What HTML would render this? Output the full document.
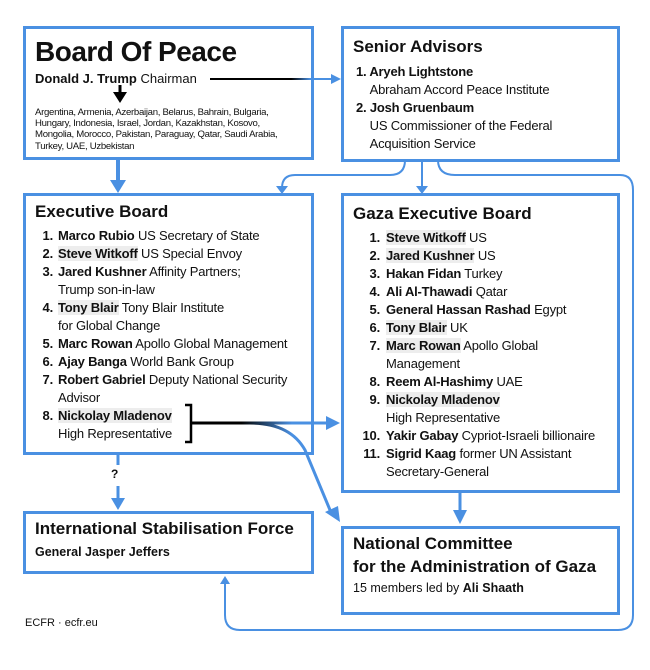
<!DOCTYPE html>
<html><head><meta charset="utf-8"><style>
body{margin:0;width:650px;height:670px;background:#fff;position:relative;font-family:"Liberation Sans",sans-serif;color:#111;overflow:hidden}
.box{position:absolute;border:3px solid #4a90e2;box-sizing:border-box;background:transparent}
.t{position:absolute;white-space:nowrap}
b{font-weight:bold}
.it{position:absolute;font-size:13px;white-space:nowrap;letter-spacing:-0.2px}
.n{position:absolute;font-weight:bold;text-align:right;width:20px}
.hl{background:#ededed}
</style></head><body>
<svg width="650" height="670" style="position:absolute;left:0;top:0">
<defs>
<linearGradient id="g1" gradientUnits="userSpaceOnUse" x1="210" y1="0" x2="335" y2="0"><stop offset="0.65" stop-color="#000"/><stop offset="0.8" stop-color="#4a90e2"/></linearGradient>
<linearGradient id="g2" gradientUnits="userSpaceOnUse" x1="191" y1="0" x2="335" y2="0"><stop offset="0.35" stop-color="#000"/><stop offset="0.7" stop-color="#4a90e2"/></linearGradient>
</defs>
<g fill="none" stroke="#4a90e2" stroke-width="2">
<path d="M405 160 Q405 175 390 175 L295 175 Q282 175 282 188"/>
<path d="M422 160 L422 188"/>
<path d="M438 160 Q438 175 455 175 L620 175 Q633 175 633 190 L633 615 Q633 630 618 630 L240 630 Q225 630 225 615 L225 582"/>
</g>
<polygon points="276,186 288,186 282,194" fill="#4a90e2"/>
<polygon points="416,186 428,186 422,194" fill="#4a90e2"/>
<polygon points="220,584 230,584 225,576" fill="#4a90e2"/>
<line x1="210" y1="79" x2="335" y2="79" stroke="url(#g1)" stroke-width="2"/>
<polygon points="331,74 341,79 331,84" fill="#4a90e2"/>
<line x1="118" y1="160" x2="118" y2="182" stroke="#4a90e2" stroke-width="4"/>
<polygon points="110,180 126,180 118,193" fill="#4a90e2"/>
<line x1="120" y1="85" x2="120" y2="94" stroke="#000" stroke-width="3"/>
<polygon points="113,92 127,92 120,103" fill="#000"/>
<line x1="118" y1="455" x2="118" y2="465" stroke="#4a90e2" stroke-width="3"/>
<line x1="118" y1="486" x2="118" y2="500" stroke="#4a90e2" stroke-width="3"/>
<polygon points="111,498 125,498 118,510" fill="#4a90e2"/>
<path d="M185 405 L191 405 L191 442 L185 442" fill="none" stroke="#000" stroke-width="2.5"/>
<line x1="191" y1="423" x2="328" y2="423" stroke="url(#g2)" stroke-width="3"/>
<polygon points="326,416 340,423 326,430" fill="#4a90e2"/>
<path d="M250 423 Q290 423 305 450 L330 510" fill="none" stroke="url(#g2)" stroke-width="3"/>
<polygon points="325,512 340,522 338,506" fill="#4a90e2"/>
<line x1="460" y1="493" x2="460" y2="512" stroke="#4a90e2" stroke-width="3"/>
<polygon points="453,510 467,510 460,524" fill="#4a90e2"/>
</svg>
<div class="t" style="left:111px;top:467px;font-size:12px;font-weight:bold">?</div>

<div class="box" style="left:23px;top:26px;width:291px;height:134px"></div>
<div class="t" style="left:35px;top:36px;font-size:28px;font-weight:bold;letter-spacing:-0.5px">Board Of Peace</div>
<div class="t" style="left:35px;top:71px;font-size:13px"><b>Donald J. Trump</b> Chairman</div>
<div class="t" style="left:35px;top:107px;font-size:9.6px;line-height:11.2px;letter-spacing:-0.3px">Argentina, Armenia, Azerbaijan, Belarus, Bahrain, Bulgaria,<br>Hungary, Indonesia, Israel, Jordan, Kazakhstan, Kosovo,<br>Mongolia, Morocco, Pakistan, Paraguay, Qatar, Saudi Arabia,<br>Turkey, UAE, Uzbekistan</div>

<div class="box" style="left:341px;top:26px;width:279px;height:136px"></div>
<div class="t" style="left:353px;top:37px;font-size:17px;font-weight:bold">Senior Advisors</div>
<div class="it" style="left:356px;top:63px;line-height:18px"><b>1. Aryeh Lightstone</b><br>&nbsp;&nbsp;&nbsp;&nbsp;Abraham Accord Peace Institute<br><b>2. Josh Gruenbaum</b><br>&nbsp;&nbsp;&nbsp;&nbsp;US Commissioner of the Federal<br>&nbsp;&nbsp;&nbsp;&nbsp;Acquisition Service</div>

<div class="box" style="left:23px;top:193px;width:291px;height:262px"></div>
<div class="t" style="left:35px;top:202px;font-size:17px;font-weight:bold">Executive Board</div>
<div class="it" style="left:33px;top:227px;line-height:18px">
<div style="position:relative;padding-left:25px">
<span class="n" style="left:0">1.</span><b>Marco Rubio</b> US Secretary of State<br>
<span class="n" style="left:0;top:18px">2.</span><b class="hl">Steve Witkoff</b> US Special Envoy<br>
<span class="n" style="left:0;top:36px">3.</span><b>Jared Kushner</b> Affinity Partners;<br>Trump son-in-law<br>
<span class="n" style="left:0;top:72px">4.</span><b class="hl">Tony Blair</b> Tony Blair Institute<br>for Global Change<br>
<span class="n" style="left:0;top:108px">5.</span><b>Marc Rowan</b> Apollo Global Management<br>
<span class="n" style="left:0;top:126px">6.</span><b>Ajay Banga</b> World Bank Group<br>
<span class="n" style="left:0;top:144px">7.</span><b>Robert Gabriel</b> Deputy National Security<br>Advisor<br>
<span class="n" style="left:0;top:180px">8.</span><b class="hl">Nickolay Mladenov</b><br>High Representative
</div></div>

<div class="box" style="left:341px;top:193px;width:279px;height:300px"></div>
<div class="t" style="left:353px;top:204px;font-size:17px;font-weight:bold">Gaza Executive Board</div>
<div class="it" style="left:362px;top:229px;line-height:18px">
<div style="position:relative;padding-left:24px">
<span class="n" style="left:-2px">1.</span><b class="hl">Steve Witkoff</b> US<br>
<span class="n" style="left:-2px;top:18px">2.</span><b class="hl">Jared Kushner</b> US<br>
<span class="n" style="left:-2px;top:36px">3.</span><b>Hakan Fidan</b> Turkey<br>
<span class="n" style="left:-2px;top:54px">4.</span><b>Ali Al-Thawadi</b> Qatar<br>
<span class="n" style="left:-2px;top:72px">5.</span><b>General Hassan Rashad</b> Egypt<br>
<span class="n" style="left:-2px;top:90px">6.</span><b class="hl">Tony Blair</b> UK<br>
<span class="n" style="left:-2px;top:108px">7.</span><b class="hl">Marc Rowan</b> Apollo Global<br>Management<br>
<span class="n" style="left:-2px;top:144px">8.</span><b>Reem Al-Hashimy</b> UAE<br>
<span class="n" style="left:-2px;top:162px">9.</span><b class="hl">Nickolay Mladenov</b><br>High Representative<br>
<span class="n" style="left:-2px;top:198px">10.</span><b>Yakir Gabay</b> Cypriot-Israeli billionaire<br>
<span class="n" style="left:-2px;top:216px">11.</span><b>Sigrid Kaag</b> former UN Assistant<br>Secretary-General
</div></div>

<div class="box" style="left:23px;top:511px;width:291px;height:63px"></div>
<div class="t" style="left:35px;top:519px;font-size:17px;font-weight:bold">International Stabilisation Force</div>
<div class="t" style="left:35px;top:545px;font-size:12.5px;font-weight:bold">General Jasper Jeffers</div>

<div class="box" style="left:341px;top:526px;width:279px;height:89px"></div>
<div class="t" style="left:353px;top:532px;font-size:17px;font-weight:bold;line-height:23px">National Committee<br>for the Administration of Gaza</div>
<div class="t" style="left:353px;top:581px;font-size:12.5px">15 members led by <b>Ali Shaath</b></div>

<div class="t" style="left:25px;top:617px;font-size:11px">ECFR · ecfr.eu</div>
</body></html>
